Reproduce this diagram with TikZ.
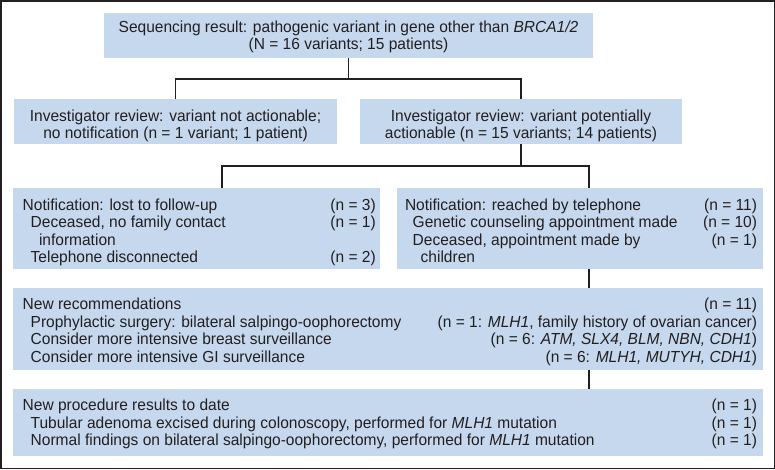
\documentclass[tikz,border=0pt]{standalone}
\usepackage{fontspec}
\setmainfont{Liberation Sans}[FakeStretch=0.97]
\definecolor{boxfill}{RGB}{197,216,237}
\definecolor{ink}{RGB}{35,31,32}
\begin{document}
\begin{tikzpicture}[x=1pt,y=-1pt,
  box/.style={fill=boxfill, draw=none, inner sep=0pt, outer sep=0pt},
  txt/.style={inner sep=0pt, outer sep=0pt, text=ink, font=\fontsize{16}{17.4}\selectfont},
  conn/.style={draw=ink, line width=1.9pt}]
\useasboundingbox (0,0) rectangle (775,469);
\draw[ink, line width=1.5pt] (0.75,0.75) rectangle (774.25,468.25);

% boxes
\node[box, minimum width=489pt, minimum height=45pt] (b1) at (348.5,35.5) {};
\node[box, minimum width=323pt, minimum height=45pt] (b2l) at (175.5,121.5) {};
\node[box, minimum width=322pt, minimum height=45pt] (b2r) at (521,121.5) {};
\node[box, minimum width=367pt, minimum height=81pt] (b3l) at (196.5,228.5) {};
\node[box, minimum width=366pt, minimum height=81pt] (b3r) at (580,228.5) {};
\node[box, minimum width=750pt, minimum height=82pt] (b4) at (388,329) {};
\node[box, minimum width=750pt, minimum height=67pt] (b5) at (388,422.5) {};

% junctions
\coordinate (j1) at (348.5,79);
\coordinate (j2) at (521,166);
\coordinate (c3l) at (222,188);
\coordinate (c3r) at (589,188);
\coordinate (c4) at (589,269);

% connectors
\draw[conn] (b1.south) -- (j1);
\draw[conn] (b2l.north) |- (j1) -| (b2r.north);
\draw[conn] (b2r.south) -- (j2);
\draw[conn] (c3l) |- (j2) -| (c3r);
\draw[conn] (b3r.south -| c4) -- (b4.north -| c4);
\draw[conn] (b4.south -| c4) -- (b5.north -| c4);

% box 1
\node[txt, anchor=base] (t1a) at (348.5,32.7) {Sequencing result: pathogenic variant in gene other than \textit{BRCA1/2}};
\node[txt, anchor=base] (t1b) at (348.5,49.7) {(N = 16 variants; 15 patients)};

% box 2
\node[txt, anchor=base] (t2la) at (175.5,121.4) {Investigator review: variant not actionable;};
\node[txt, anchor=base] (t2lb) at (175.5,138.4) {no notification (n = 1 variant; 1 patient)};
\node[txt, anchor=base] (t2ra) at (521,121.4) {Investigator review: variant potentially};
\node[txt, anchor=base] (t2rb) at (521,138.4) {actionable (n = 15 variants; 14 patients)};

% box 3 left
\node[txt, anchor=base west] (t3la) at (22.7,210) {Notification: lost to follow-up};
\node[txt, anchor=base west] (t3lb) at (30.7,227.4) {Deceased, no family contact};
\node[txt, anchor=base west] (t3lc) at (39,245) {information};
\node[txt, anchor=base west] (t3ld) at (30.7,262.4) {Telephone disconnected};
\node[txt, anchor=base east] (n3la) at (375.7,210) {(n = 3)};
\node[txt, anchor=base east] (n3lb) at (375.7,227.4) {(n = 1)};
\node[txt, anchor=base east] (n3ld) at (375.7,262.4) {(n = 2)};

% box 3 right
\node[txt, anchor=base west] (t3ra) at (405,210) {Notification: reached by telephone};
\node[txt, anchor=base west] (t3rb) at (412.7,227.4) {Genetic counseling appointment made};
\node[txt, anchor=base west] (t3rc) at (412.7,245) {Deceased, appointment made by};
\node[txt, anchor=base west] (t3rd) at (420.7,262.4) {children};
\node[txt, anchor=base east] (n3ra) at (757,210) {(n = 11)};
\node[txt, anchor=base east] (n3rb) at (757,227.4) {(n = 10)};
\node[txt, anchor=base east] (n3rc) at (757,245) {(n = 1)};

% box 4
\node[txt, anchor=base west] (t4a) at (22.7,309.7) {New recommendations};
\node[txt, anchor=base west] (t4b) at (30.7,327.3) {Prophylactic surgery: bilateral salpingo-oophorectomy};
\node[txt, anchor=base west] (t4c) at (30.7,344.9) {Consider more intensive breast surveillance};
\node[txt, anchor=base west] (t4d) at (30.7,362.5) {Consider more intensive GI surveillance};
\node[txt, anchor=base east] (n4a) at (757,309.7) {(n = 11)};
\node[txt, anchor=base east] (n4b) at (757,327.3) {(n = 1: \textit{MLH1}, family history of ovarian cancer)};
\node[txt, anchor=base east] (n4c) at (757,344.9) {(n = 6: \textit{ATM, SLX4, BLM, NBN, CDH1})};
\node[txt, anchor=base east] (n4d) at (757,362.5) {(n = 6: \textit{MLH1, MUTYH, CDH1})};

% box 5
\node[txt, anchor=base west] (t5a) at (22.7,410.7) {New procedure results to date};
\node[txt, anchor=base west] (t5b) at (30.7,428.2) {Tubular adenoma excised during colonoscopy, performed for \textit{MLH1} mutation};
\node[txt, anchor=base west] (t5c) at (30.7,445.7) {Normal findings on bilateral salpingo-oophorectomy, performed for \textit{MLH1} mutation};
\node[txt, anchor=base east] (n5a) at (757,410.7) {(n = 1)};
\node[txt, anchor=base east] (n5b) at (757,428.2) {(n = 1)};
\node[txt, anchor=base east] (n5c) at (757,445.7) {(n = 1)};
\end{tikzpicture}
\end{document}
